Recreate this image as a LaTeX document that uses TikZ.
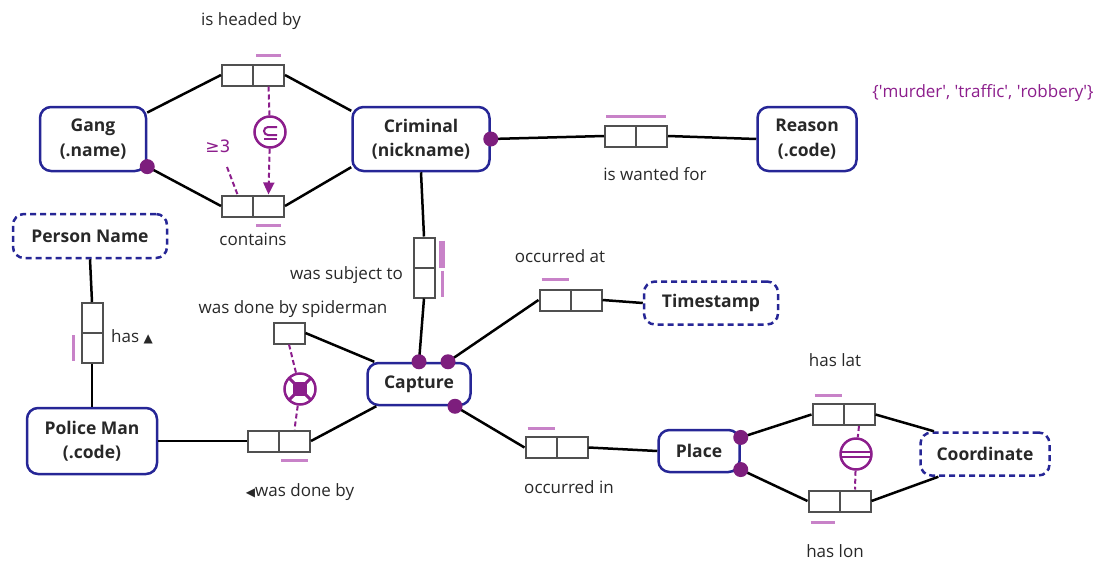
\documentclass[tikz,border=0pt]{standalone}
\usepackage{fontspec}
\setmainfont{Open Sans}
\newfontfamily\symfont{DejaVu Sans}
\newcommand\mytrifont{\symfont\fontsize{12}{12}\selectfont}
\usetikzlibrary{calc,arrows.meta}
\definecolor{entblue}{RGB}{38,38,150}
\definecolor{mand}{RGB}{125,30,125}
\definecolor{ubar}{RGB}{200,130,200}
\definecolor{cons}{RGB}{140,30,140}
\definecolor{rolegray}{RGB}{80,80,80}
\definecolor{txt}{RGB}{40,40,40}
\tikzset{
  ent/.style={draw=entblue, line width=2.5pt, rounded corners=11pt, fill=white, align=center,
    font=\fontsize{17.5}{24.5}\selectfont\bfseries, text=txt, inner sep=0pt},
  entv/.style={ent, dash pattern=on 6pt off 4pt},
  role/.style={draw=rolegray, line width=2pt, fill=white, minimum width=31pt, minimum height=21pt, inner sep=0pt},
  vrole/.style={role, minimum width=21pt, minimum height=30pt},
  conn/.style={line width=2.5pt, draw=black},
  ubarst/.style={draw=ubar, line width=3pt},
  mdot/.style={circle, fill=mand, inner sep=0pt, minimum size=15pt},
  lbl/.style={font=\fontsize{17}{20}\selectfont, text=txt, inner sep=0pt},
  cline/.style={draw=cons, line width=2pt, dash pattern=on 5pt off 3pt},
  ccirc/.style={circle, draw=cons, line width=2.5pt, minimum size=31pt, inner sep=0pt, fill=white}
}
\begin{document}
\begin{tikzpicture}[x=1pt,y=-1pt]
\path[use as bounding box] (0,0) rectangle (1101,560);
% entities
\node[ent, minimum width=106pt, minimum height=64pt] (gang) at (93,139) {Gang\\(.name)};
\node[ent, minimum width=137pt, minimum height=64pt] (crim) at (421,139) {Criminal\\(nickname)};
\node[ent, minimum width=99pt, minimum height=64pt] (reason) at (807,139) {Reason\\(.code)};
\node[entv, minimum width=154pt, minimum height=44pt] (pname) at (90,236) {Person Name};
\node[ent, minimum width=130pt, minimum height=66pt] (police) at (92,441) {Police Man\\(.code)};
\node[ent, minimum width=103pt, minimum height=42pt] (capture) at (419,384) {Capture};
\node[entv, minimum width=134pt, minimum height=43pt] (tstamp) at (711,303) {Timestamp};
\node[ent, minimum width=81pt, minimum height=42pt] (place) at (699,451) {Place};
\node[entv, minimum width=129pt, minimum height=43pt] (coord) at (985,454) {Coordinate};
% roles
\node[role] (hb1) at (237.5,75) {};
\node[role] (hb2) at (268.5,75) {};
\node[role] (ct1) at (237.5,206) {};
\node[role] (ct2) at (268.5,206) {};
\node[role] (wf1) at (620.5,136) {};
\node[role] (wf2) at (651.5,136) {};
\node[vrole] (st1) at (424,252.5) {};
\node[vrole] (st2) at (424,282.5) {};
\node[role] (sp) at (289,333) {};
\node[role] (wd1) at (263.5,441) {};
\node[role] (wd2) at (294.5,441) {};
\node[vrole] (hs1) at (92,318) {};
\node[vrole] (hs2) at (92,348) {};
\node[role] (oa1) at (555,300) {};
\node[role] (oa2) at (586,300) {};
\node[role] (oi1) at (541,447.5) {};
\node[role] (oi2) at (572,447.5) {};
\node[role] (hl1) at (828,414.5) {};
\node[role] (hl2) at (859,414.5) {};
\node[role] (hn1) at (824,501) {};
\node[role] (hn2) at (855,501) {};
% anchor points
\coordinate (capd2) at ($(capture.north)+(29,0)$);
\coordinate (capd3) at ($(capture.south)+(36,0)$);
% connectors
\draw[conn] (gang.26) -- (hb1.west);
\draw[conn] (hb2.east) -- (crim.158);
\draw[conn] (gang.-27) -- (ct1.west);
\draw[conn] (ct2.east) -- (crim.202);
\draw[conn] (crim.east) -- (wf1.west);
\draw[conn] (wf2.east) -- (reason.west);
\draw[conn] (crim.south) -- (st1.north);
\draw[conn] (st2.south) -- (capture.north);
\draw[conn] (sp.east) -- ($(capture.north west)+(8,0)$);
\draw[conn] (police.east) -- (wd1.west);
\draw[conn] (wd2.east) -- ($(capture.south west)+(10,0)$);
\draw[conn] (pname.south) -- (hs1.north);
\draw[conn] (hs2.south) -- (police.north);
\draw[conn] (capd2) -- (oa1.west);
\draw[conn] (oa2.east) -- (tstamp.west);
\draw[conn] (capd3) -- (oi1.west);
\draw[conn] (oi2.east) -- (place.west);
\draw[conn] (place.18) -- (hl1.west);
\draw[conn] (place.-24) -- (hn1.west);
\draw[conn] (hl2.east) -- (coord.156);
\draw[conn] (hn2.east) -- (coord.206);
% mandatory dots
\node[mdot] (m1) at (gang.-27) {};
\node[mdot] (m2) at (crim.east) {};
\node[mdot] (m3) at (capture.north) {};
\node[mdot] (m4) at (capd2) {};
\node[mdot] (m5) at (capd3) {};
\node[mdot] (m6) at (place.18) {};
\node[mdot] (m7) at (place.-24) {};
% uniqueness bars
\draw[ubarst] ($(hb2.north west)+(4,-8)$) -- ($(hb2.north east)+(-4,-8)$);
\draw[ubarst] ($(ct2.south west)+(4,8)$) -- ($(ct2.south east)+(-4,8)$);
\draw[ubarst] ($(wf1.north west)+(2,-8)$) -- ($(wf2.north east)+(-2,-8)$);
\draw[ubarst, line width=6pt] ($(st1.north east)+(6.5,4)$) -- ($(st1.south east)+(6.5,-1)$);
\draw[ubarst] ($(st2.north east)+(6.5,4)$) -- ($(st2.south east)+(6.5,-2)$);
\draw[ubarst] ($(hs2.north west)+(-7,3)$) -- ($(hs2.south west)+(-7,-3)$);
\draw[ubarst] ($(wd2.south west)+(3,8)$) -- ($(wd2.south east)+(-3,8)$);
\draw[ubarst] ($(oa1.north west)+(3,-9)$) -- ($(oa1.north east)+(-3,-9)$);
\draw[ubarst] ($(oi1.north west)+(3,-8)$) -- ($(oi1.north east)+(-3,-8)$);
\draw[ubarst] ($(hl1.north west)+(3,-8)$) -- ($(hl1.north east)+(-3,-8)$);
\draw[ubarst] ($(hn1.south west)+(3,10)$) -- ($(hn1.south east)+(-6,10)$);
% subset constraint
\node[ccirc] (sub) at (270,132) {};
\draw[cons, line width=2pt] ($(sub)+(7,-5)$) -- ($(sub)+(-2,-5)$) arc[start angle=90, end angle=270, radius=4pt] -- ($(sub)+(7,3)$);
\draw[cons, line width=2pt] ($(sub)+(-6,7)$) -- ($(sub)+(7,7)$);
\draw[cline] (hb2.south) -- (sub);
\draw[cline, -{Triangle[width=11pt,length=12pt]}] (sub) -- (ct2.north);
% frequency constraint
\node[lbl, text=cons, font=\symfont\fontsize{17}{20}\selectfont] (freq) at (218,146) {≥3};
\coordinate (freqend) at (227,167);
\draw[cline] (freqend) -- (ct1.north);
% exclusion-like constraint
\node[ccirc] (ex) at (300,389) {};
\fill[cons] ($(ex)+(-7,-7)$) rectangle ($(ex)+(7,7)$);
\draw[cons, line width=3pt] ($(ex)+(-11,-11)$) -- ($(ex)+(11,11)$);
\draw[cons, line width=3pt] ($(ex)+(-11,11)$) -- ($(ex)+(11,-11)$);
\draw[cline] (sp.south) -- (ex);
\draw[cline] (ex) -- (wd2.north);
% equality constraint
\node[ccirc] (eq) at (856,454) {};
\draw[cons, line width=2pt] ($(eq)+(-15,-2.5)$) -- ($(eq)+(15,-2.5)$);
\draw[cons, line width=2pt] ($(eq)+(-15,2.5)$) -- ($(eq)+(15,2.5)$);
\draw[cline] (hl2.south) -- (eq);
\draw[cline] (eq) -- (hn2.north);
% labels
\node[lbl] (t_hb) at (251,21) {is headed by};
\node[lbl] (t_ct) at (253,239) {contains};
\node[lbl] (t_wf) at (655,174) {is wanted for};
\node[lbl, text=cons] (t_vals) at (983,93) {\{\textquotesingle murder\textquotesingle, \textquotesingle traffic\textquotesingle, \textquotesingle robbery\textquotesingle\}};
\node[lbl, anchor=east] (t_st) at (403,275) {was subject to};
\node[lbl] (t_sp) at (293,309) {was done by spiderman};
\node[lbl, anchor=west] (t_has) at (111,337) {has {\mytrifont ▲}};
\node[lbl] (t_wd) at (300,492) {{\mytrifont ◀}was done by};
\node[lbl] (t_oa) at (560,256) {occurred at};
\node[lbl] (t_oi) at (569,487) {occurred in};
\node[lbl] (t_hl) at (835,360) {has lat};
\node[lbl] (t_hn) at (835,551) {has lon};
\end{tikzpicture}
\end{document}
